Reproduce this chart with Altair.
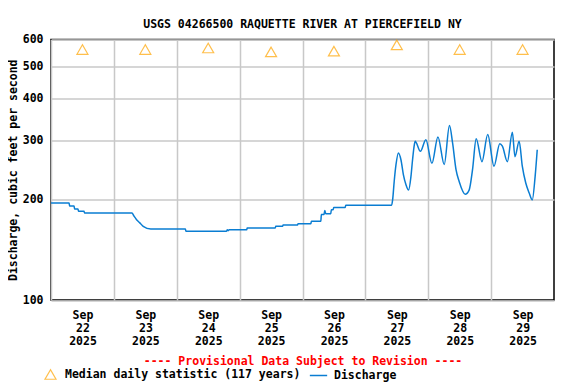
import altair as alt
import pandas as pd

title_text = "USGS 04266500 RAQUETTE RIVER AT PIERCEFIELD NY"
y_title = "Discharge, cubic feet per second"
note_text = "---- Provisional Data Subject to Revision ----"
median_label = "Median daily statistic (117 years)"
discharge_label = "Discharge"

start = pd.Timestamp("2025-09-22T00:00:00")

# hours since Sep 22 00:00 and discharge (ft3/s)
hours = [0, 6.9, 7.1, 8.8, 9.0, 10.3, 10.5, 12.6, 12.8, 30.9, 31.7, 32.6, 33.9, 35.2, 38.1,
         51.3, 51.5, 67.0, 67.3, 67.6, 68.0, 74.7, 74.9, 85.6, 85.8, 88.4, 88.6, 94.1, 94.3,
         99.2, 99.4, 103.0, 103.2, 104.2, 104.5, 104.9, 106.8, 107.0, 107.7, 107.9, 112.3,
         112.5, 130.0,
         130.4, 131.0, 131.7, 132.6, 133.6, 134.5, 135.5, 136.5, 137.4, 138.0,
         138.7, 139.0, 141.0, 143.1, 145.4, 147.7, 150.1, 152.1, 153.3, 154.6,
         155.8, 158.1, 159.6, 160.9, 162.3, 164.5, 166.7, 169.1, 171.3, 172.3,
         174.2, 176.1, 177.1, 178.7, 179.9, 181.2, 182.5, 183.7, 184.8, 185.6]
flow = [195, 195, 191, 191, 187, 187, 184, 184, 182, 182, 178, 174, 170, 166, 163,
        163, 160.5, 160.5, 162, 161, 162, 162, 164, 164, 166, 166, 167.5, 167.5, 169,
        169, 172, 172, 180, 180, 185, 181, 181, 186, 186, 189, 189,
        192, 192,
        199, 226, 254, 275, 262, 237, 221, 213, 234, 262,
        291, 298, 278, 301, 256, 307, 254, 332, 294, 245,
        226, 207, 213, 245, 303, 259, 312, 251, 293, 288,
        259, 317, 268, 298, 251, 224, 209, 199, 234, 281]

median_days = [22, 23, 24, 25, 26, 27, 28, 29]
median_flow = [560, 560, 566, 551, 554, 578, 560, 560]

tick_days = [22, 23, 24, 25, 26, 27, 28, 29]
y_ticks = [100, 200, 300, 400, 500, 600]

FONT = "DejaVu Sans Mono"
FS = 11.5

flow_df = pd.DataFrame({
    "time": [(start + pd.Timedelta(hours=h)).strftime("%Y-%m-%dT%H:%M:%S") for h in hours],
    "flow": flow,
    "series": discharge_label,
})
median_df = pd.DataFrame({
    "time": [f"2025-09-{d:02d}T12:00:00" for d in median_days],
    "flow": median_flow,
    "series": median_label,
})

x_enc = alt.X(
    "time:T",
    scale=alt.Scale(domain=[alt.DateTime(year=2025, month=9, date=22),
                            alt.DateTime(year=2025, month=9, date=30)], nice=False),
    axis=alt.Axis(
        values=[alt.DateTime(year=2025, month=9, date=d) for d in tick_days],
        labelExpr="[timeFormat(datum.value, '%b'), timeFormat(datum.value, '%d'), timeFormat(datum.value, '%Y')]",
        labelOffset=31.5, labelFlush=False, labelOverlap=False, labelBound=False,
        ticks=False, domain=False, grid=True, gridColor="#c8c8c8", gridWidth=1.5,
        labelFont=FONT, labelFontSize=FS, labelFontWeight="bold", labelColor="black",
        labelPadding=9, labelLineHeight=13,
        title=note_text, titleColor="#ff0000", titleFont=FONT, titleFontSize=FS,
        titleFontWeight="bold", titlePadding=9,
    ),
)
y_enc = alt.Y(
    "flow:Q",
    scale=alt.Scale(type="log", domain=[100, 600], nice=False),
    axis=alt.Axis(
        values=y_ticks, ticks=False, domain=False, grid=True, gridColor="#c8c8c8",
        gridWidth=1.5, labelFont=FONT, labelFontSize=FS, labelFontWeight="bold",
        labelColor="black", labelPadding=8,
        title=y_title, titleFont=FONT, titleFontSize=FS, titleFontWeight="bold",
        titleColor="black", titlePadding=4,
    ),
)

line = alt.Chart(flow_df).mark_line(interpolate="monotone", strokeWidth=1.5).encode(
    x=x_enc, y=y_enc,
    color=alt.Color("series:N",
                    scale=alt.Scale(domain=[discharge_label], range=["#0a7dd2"]),
                    legend=alt.Legend(orient="none", legendX=258, legendY=326.5, title=None,
                                      symbolType="stroke", symbolSize=300,
                                      symbolStrokeWidth=1.5, labelOffset=6, padding=0,
                                      labelLimit=400,
                                      labelFont=FONT, labelFontSize=FS,
                                      labelFontWeight="bold", labelColor="black")),
)

pts = alt.Chart(median_df).mark_point(shape="triangle-up", filled=False, size=121,
                                      strokeWidth=1.2).encode(
    x="time:T", y="flow:Q",
    color=alt.Color("series:N",
                    scale=alt.Scale(domain=[median_label], range=["#ffa500"]),
                    legend=alt.Legend(orient="none", legendX=-7, legendY=328.5, title=None,
                                      symbolType="triangle-up", symbolSize=121,
                                      symbolStrokeWidth=1.2, symbolFillColor="transparent",
                                      labelOffset=8, padding=0, labelLimit=400,
                                      labelFont=FONT, labelFontSize=FS,
                                      labelFontWeight="bold", labelColor="black")),
)

chart = alt.layer(line, pts).resolve_scale(color="independent").properties(
    width=503, height=260.5,
    padding={"left": 43, "top": 31.5, "right": 14, "bottom": 82},
    autosize=alt.AutoSizeParams(type="none"),
    title=alt.Title(title_text, font=FONT, fontSize=FS, fontWeight="bold", color="black",
                    anchor="middle", frame="group", offset=3),
).configure_view(stroke="black", strokeWidth=1.5)

chart.save("out.html", embed_options={"renderer": "svg", "actions": False})
